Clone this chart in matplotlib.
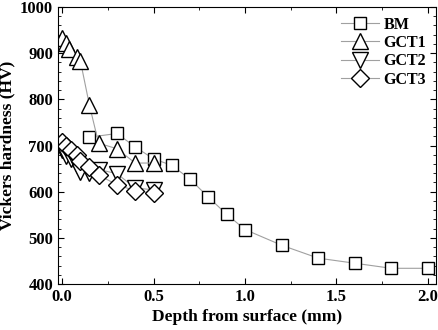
import numpy as np
import matplotlib
matplotlib.use('Agg')
from matplotlib import pyplot as plt
from matplotlib.ticker import MultipleLocator, FormatStrFormatter

plt.rcParams['font.family'] = ['Liberation Serif', 'DejaVu Serif']
plt.rcParams['font.weight'] = 'bold'

# hardness profiles, depth in mm
bm_x = [0.15, 0.3, 0.4, 0.5, 0.6, 0.7, 0.8, 0.9, 1.0, 1.2, 1.4, 1.6, 1.8, 2.0]
bm_y = [718, 726, 697, 671, 657, 627, 588, 551, 518, 484, 456, 445, 434, 434]

gct1_x = [0.0, 0.02, 0.04, 0.08, 0.1, 0.15, 0.2, 0.3, 0.4, 0.5]
gct1_y = [932, 922, 909, 892, 884, 787, 705, 693, 662, 662]

gct2_x = [0.0, 0.02, 0.05, 0.08, 0.1, 0.15, 0.2, 0.3, 0.4, 0.5]
gct2_y = [690, 678, 670, 658, 642, 640, 648, 639, 608, 604]

gct3_x = [0.0, 0.02, 0.05, 0.08, 0.1, 0.15, 0.2, 0.3, 0.4, 0.5]
gct3_y = [708, 700, 690, 680, 667, 653, 636, 615, 602, 597]

fig = plt.figure(figsize=(4.39, 3.30), dpi=100)
ax = fig.add_axes([58/439, 1-284/330, 378/439, 277/330])

line_kw = dict(color='#a0a0a0', lw=0.8, mfc='white', mec='black', mew=1.0)
ax.plot(bm_x, bm_y, marker='s', ms=8, label='BM', **line_kw)
ax.plot(gct1_x, gct1_y, marker='^', ms=11, label='GCT1', **line_kw)
ax.plot(gct2_x, gct2_y, marker='v', ms=11, label='GCT2', **line_kw)
ax.plot(gct3_x, gct3_y, marker='D', ms=9, label='GCT3', **line_kw)

ax.set_xlim(-0.022, 2.044)
ax.set_ylim(400, 1000)
ax.xaxis.set_major_locator(MultipleLocator(0.5))
ax.xaxis.set_minor_locator(MultipleLocator(0.25))
ax.xaxis.set_major_formatter(FormatStrFormatter('%.1f'))
ax.yaxis.set_major_locator(MultipleLocator(100))
ax.yaxis.set_minor_locator(MultipleLocator(20))
ax.tick_params(which='both', direction='in', top=True, right=True, labelsize=12)
ax.tick_params(which='major', length=4, width=0.8)
ax.tick_params(which='minor', length=2.5, width=0.6)
for lab in ax.get_xticklabels() + ax.get_yticklabels():
    lab.set_fontweight('bold')

ax.set_xlabel('Depth from surface (mm)', fontsize=12.5, fontweight='bold', labelpad=3)
ax.set_ylabel('Vickers hardness (HV)', fontsize=12.5, fontweight='bold', labelpad=3)

leg = ax.legend(loc='upper right', frameon=False, fontsize=11.5, handlelength=2.4,
                borderaxespad=0.3, borderpad=0.3, labelspacing=0.15, handletextpad=0.3)
for t in leg.get_texts():
    t.set_fontweight('bold')

fig.savefig('out.png', dpi=100)
